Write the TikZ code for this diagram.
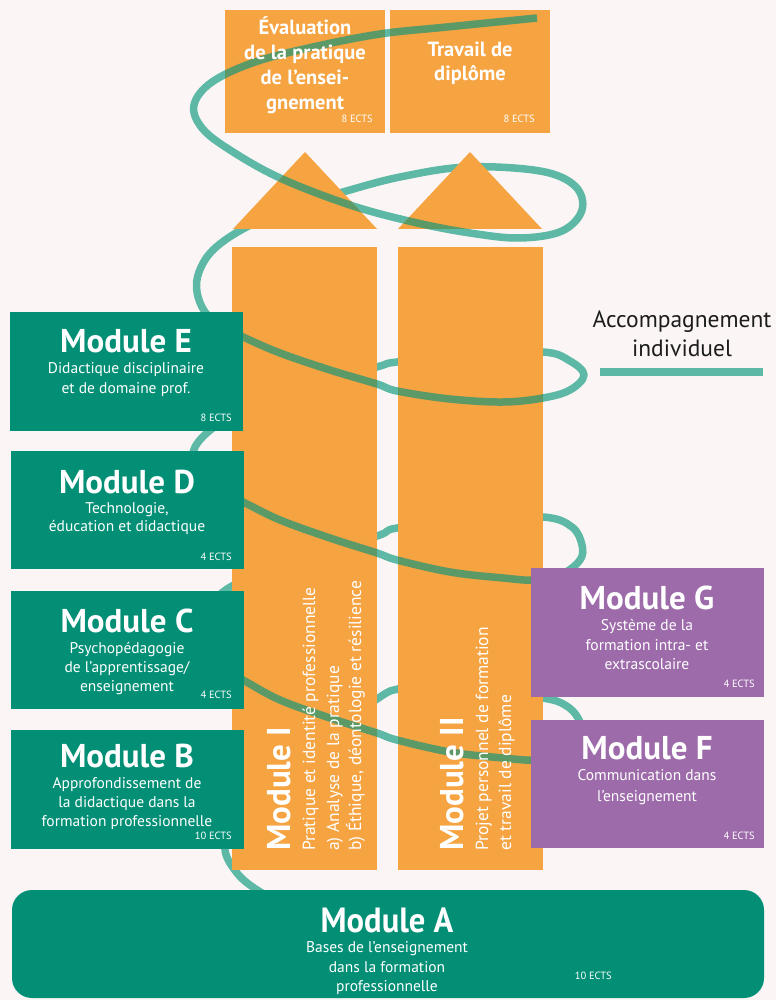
\documentclass[tikz,border=0pt]{standalone}
\usepackage{fontspec}
\setmainfont{PT Sans}
\definecolor{bgc}{HTML}{FBF6F5}
\definecolor{orng}{HTML}{F6A341}
\definecolor{grn}{HTML}{028F75}
\definecolor{purp}{HTML}{9D6BAA}
\definecolor{spl}{HTML}{5DB9A6}
\definecolor{spd}{HTML}{5B9A67}
\definecolor{ink}{HTML}{1C1C1C}
\begin{document}
\begin{tikzpicture}[x=1pt,y=-1pt,
  ttl/.style={text=white,inner sep=0pt,anchor=base,font=\fontsize{33}{33}\selectfont\bfseries},
  sub/.style={text=white,inner sep=0pt,anchor=base,font=\fontsize{15.5}{15.5}\selectfont},
  ects/.style={text=white,inner sep=0pt,anchor=base east,font=\fontsize{10.5}{10.5}\selectfont},
  toptxt/.style={text=white,inner sep=0pt,anchor=base,font=\fontsize{20.5}{20.5}\selectfont\bfseries},
  vtitle/.style={text=white,inner sep=0pt,anchor=base west,rotate=90,font=\fontsize{33}{33}\selectfont\bfseries},
  vsub/.style={text=white,inner sep=0pt,anchor=base west,rotate=90,font=\fontsize{17.5}{17.5}\selectfont},
  spir/.style={line width=7.5pt,draw=spl,line join=round},
  legtxt/.style={text=ink,inner sep=0pt,anchor=base,font=\fontsize{23.5}{23.5}\selectfont},
  box/.style={inner sep=0pt,outer sep=0pt,draw=none,anchor=north west},
]
\useasboundingbox (0,0) rectangle (776,1000);
\fill[bgc] (0,0) rectangle (776,1000);

% spiral: full path (back parts get hidden by the orange shapes)
\def\spiralall{(537,18) (447,27) (380,34) (313,47) (255,62) (212,82) (194,105) (202,128) (230,150) (280,178) (350,205) (413,222) (470,233) (520,238) (562,231) (582,210) (575,186) (540,171) (467,167) (400,177) (343,192) (290,208) (243,229) (213,250) (199,272) (197,292) (205,312) (222,327) (243,337) (280,353) (330,370) (377,384) (397,391) (450,399) (503,402) (543,398) (570,390) (584,375) (570,361) (543,352) (470,355) (397,362) (377,367) (300,390) (240,412) (208,432) (193,452) (197,472) (215,489) (243,502) (280,520) (330,538) (377,553) (397,560) (450,572) (503,578) (535,580) (562,574) (580,560) (582,545) (572,527) (543,517) (470,520) (397,528) (377,536) (300,560) (232,586) (207,612) (199,638) (210,662) (243,680) (280,700) (330,718) (377,733) (397,740) (450,752) (503,758) (535,760) (565,755) (583,738) (578,718) (565,705) (543,698) (480,690) (420,686) (398,689) (377,699) (300,755) (245,810) (225,845) (237,873) (262,893) (290,905)}
\draw[spir] plot[smooth,tension=0.6] coordinates {\spiralall};

% orange shapes
\node[box,fill=orng,minimum width=160pt,minimum height=123pt] (topL) at (225,10) {};
\node[box,fill=orng,minimum width=160pt,minimum height=123pt] (topR) at (390,10) {};
\fill[orng] (305,152) -- (377,229) -- (233,229) -- cycle;
\fill[orng] (470,152) -- (542,229) -- (398,229) -- cycle;
\node[box,fill=orng,minimum width=145pt,minimum height=623pt] (barI) at (232,247) {};
\node[box,fill=orng,minimum width=145pt,minimum height=623pt] (barII) at (398,247) {};

% front parts of spiral over the orange
\begin{scope}
\clip (225,10) rectangle (385,133) (390,10) rectangle (550,133)
      (305,152) -- (377,229) -- (233,229) -- cycle
      (470,152) -- (542,229) -- (398,229) -- cycle
      (232,247) rectangle (377,870) (398,247) rectangle (543,870);
\draw[spir,draw=spd] plot[smooth,tension=0.6] coordinates {(537,18) (447,27) (380,34) (313,47) (255,62) (212,82) (194,105) (202,128) (230,150) (280,178) (350,205) (413,222) (470,233) (520,238) (562,231) (582,210) (575,186)};
\draw[spir,draw=spd] plot[smooth,tension=0.6] coordinates {(222,327) (243,337) (280,353) (330,370) (377,384) (397,391) (450,399) (503,402) (543,398) (570,390) (584,375)};
\draw[spir,draw=spd] plot[smooth,tension=0.6] coordinates {(215,489) (243,502) (280,520) (330,538) (377,553) (397,560) (450,572) (503,578) (535,580) (562,574) (580,560)};
\draw[spir,draw=spd] plot[smooth,tension=0.6] coordinates {(210,662) (243,680) (280,700) (330,718) (377,733) (397,740) (450,752) (503,758) (535,760) (565,755) (583,738)};
\end{scope}

% top boxes text
\node[toptxt] (t1) at (305,35) {Évaluation};
\node[toptxt] (t2) at (305,60) {de la pratique};
\node[toptxt] (t3) at (305,85) {de l’ensei-};
\node[toptxt] (t4) at (305,110) {gnement};
\node[ects] (t5) at (373,123) {8 ECTS};
\node[toptxt] (r1) at (470,57) {Travail de};
\node[toptxt] (r2) at (470,81) {diplôme};
\node[ects] (r3) at (535,123) {8 ECTS};

% vertical texts
\node[vtitle] (vI) at (290,851) {Module I};
\node[vsub] (vI1) at (315,851) {Pratique et identité professionnelle};
\node[vsub] (vI2) at (339,851) {a) Analyse de la pratique};
\node[vsub] (vI3) at (361,851) {b) Éthique, déontologie et résilience};
\node[vtitle] (vII) at (463,851) {Module II};
\node[vsub] (vII1) at (488,851) {Projet personnel de formation};
\node[vsub] (vII2) at (511,851) {et travail de diplôme};

% left green modules
\node[box,fill=grn,minimum width=233pt,minimum height=119pt] (E) at (10,312) {};
\node[ttl] (Et) at (126,352) {Module E};
\node[sub] (E1) at (126,373) {Didactique disciplinaire};
\node[sub] (E2) at (126,393) {et de domaine prof.};
\node[ects] (E3) at (232,421) {8 ECTS};

\node[box,fill=grn,minimum width=233pt,minimum height=118pt] (D) at (11,451) {};
\node[ttl] (Dt) at (127,493) {Module D};
\node[sub] (D1) at (127,513) {Technologie,};
\node[sub] (D2) at (127,531) {éducation et didactique};
\node[ects] (D3) at (232,560) {4 ECTS};

\node[box,fill=grn,minimum width=233pt,minimum height=118pt] (C) at (11,591) {};
\node[ttl] (Ct) at (127,632) {Module C};
\node[sub] (C1) at (127,653) {Psychopédagogie};
\node[sub] (C2) at (127,672) {de l’apprentissage/};
\node[sub] (C3) at (127,691) {enseignement};
\node[ects] (C4) at (232,698) {4 ECTS};

\node[box,fill=grn,minimum width=233pt,minimum height=119pt] (B) at (11,730) {};
\node[ttl] (Bt) at (127,767) {Module B};
\node[sub] (B1) at (127,788) {Approfondissement de};
\node[sub] (B2) at (127,807) {la didactique dans la};
\node[sub] (B3) at (127,826) {formation professionnelle};
\node[ects] (B4) at (232,839) {10 ECTS};

% right purple modules
\node[box,fill=purp,minimum width=233pt,minimum height=129pt] (G) at (531,568) {};
\node[ttl] (Gt) at (647,609) {Module G};
\node[sub] (G1) at (647,630) {Système de la};
\node[sub] (G2) at (647,650) {formation intra- et};
\node[sub] (G3) at (647,669) {extrascolaire};
\node[ects] (G4) at (755,687) {4 ECTS};

\node[box,fill=purp,minimum width=233pt,minimum height=128pt] (F) at (531,720) {};
\node[ttl] (Ft) at (647,759) {Module F};
\node[sub] (F1) at (647,780) {Communication dans};
\node[sub] (F2) at (647,801) {l’enseignement};
\node[ects] (F3) at (755,839) {4 ECTS};

% module A
\node[box,fill=grn,minimum width=752pt,minimum height=108pt,rounded corners=20pt] (A) at (12,890) {};
\node[ttl] (At) at (387,932) {\scalebox{0.93}[1]{\fontsize{35}{35}\selectfont Module A}};
\node[sub] (A1) at (387,952) {Bases de l’enseignement};
\node[sub] (A2) at (387,972) {dans la formation};
\node[sub] (A3) at (387,991) {professionnelle};
\node[ects] (A4) at (612,979) {10 ECTS};

% legend
\node[legtxt] (L1) at (682,327) {Accompagnement};
\node[legtxt] (L2) at (682,356) {individuel};
\coordinate (la) at (600,372);
\coordinate (lb) at (763,372);
\draw[line width=8pt,spl] (la) -- (lb);
\end{tikzpicture}
\end{document}
